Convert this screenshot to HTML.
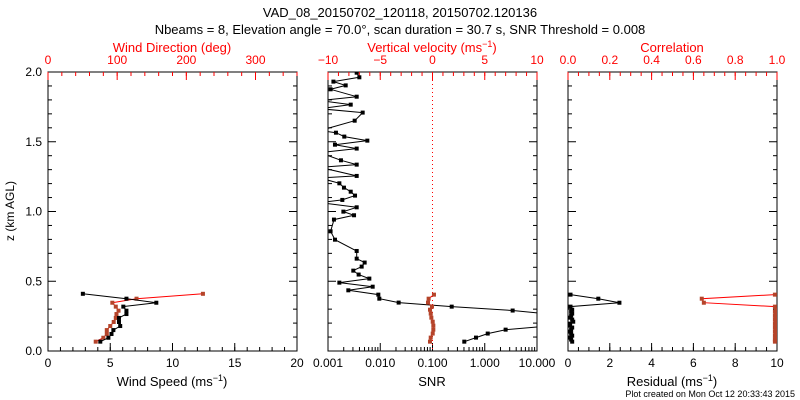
<!DOCTYPE html>
<html><head><meta charset="utf-8"><style>
html,body{margin:0;padding:0;background:#fff}
svg{display:block;font-family:"Liberation Sans",sans-serif}
</style></head><body>
<svg id="c" width="800" height="400" viewBox="0 0 800 400">
<text x="400" y="17" font-size="13" text-anchor="middle">VAD_08_20150702_120118, 20150702.120136</text>
<text x="400" y="34" font-size="13" text-anchor="middle">Nbeams = 8, Elevation angle = 70.0°, scan duration = 30.7 s, SNR Threshold = 0.008</text>
<text x="795" y="397" font-size="9" text-anchor="end">Plot created on Mon Oct 12 20:33:43 2015</text>
<text transform="translate(14,211) rotate(-90)" font-size="12" text-anchor="middle">z (km AGL)</text>
</svg>
<script>
// Panel 1: wind speed (black) and direction (red)
const heights1 = [0.067,0.095,0.122,0.150,0.179,0.208,0.237,0.265,0.289,0.318,0.346,0.375,0.410];
const windSpeed = [4.2,4.85,5.1,5.25,5.8,5.7,5.7,6.3,6.3,6.05,8.7,6.3,2.8];
const windDir = [69,80,85,85,90,95,98,99,102,98,93,128,224];
// Panel 2: SNR (black) and vertical velocity (red)
const heightsSnr = [0.067,0.096,0.125,0.153,0.175,0.205,0.235,0.270,0.290,0.318,0.347,0.375,0.404,0.435,0.461,0.490,0.519,0.548,0.576,0.605,0.634,0.662,0.717,0.798,0.858,0.942,0.973,0.999,1.030,1.064,1.083,1.114,1.142,1.171,1.202,1.240,1.255,1.317,1.336,1.367,1.422,1.451,1.479,1.508,1.537,1.565,1.580,1.651,1.709,1.737,1.766,1.795,1.823,1.876,1.904,1.931,1.962,1.995];
const snrValues = [0.406,0.68,1.14,2.51,12,20,20,12,3.42,0.233,0.0225,0.0096,0.00919,0.00245,0.00716,0.00165,0.00618,0.00386,0.00305,0.00441,0.00503,0.00354,0.00354,0.00136,0.00112,0.0013,0.00315,0.00197,0.00354,0.0007,0.00188,0.00329,0.00272,0.00202,0.00165,0.0007,0.00354,0.0007,0.00354,0.00177,0.0007,0.00354,0.00136,0.00566,0.00205,0.00142,0.0007,0.00324,0.00461,0.0007,0.00272,0.0007,0.00354,0.00112,0.00218,0.00127,0.00398,0.00354];
const heightsW = [0.067,0.096,0.125,0.153,0.182,0.210,0.239,0.268,0.296,0.318,0.347,0.375,0.404];
const vertVel = [-0.24,-0.17,0.02,0.08,0.08,0.02,-0.11,-0.17,-0.24,-0.05,-0.43,-0.37,0.14];
// Panel 3: residual (black) and correlation (red)
const heights3 = [0.067,0.082,0.096,0.11,0.125,0.139,0.153,0.168,0.182,0.196,0.210,0.225,0.239,0.253,0.268,0.282,0.296,0.318,0.346,0.375,0.404];
const residual = [0.2,0.15,0.1,0.2,0.15,0.1,0.15,0.2,0.1,0.1,0.25,0.2,0.1,0.15,0.2,0.15,0.2,0.12,2.46,1.45,0.12];
const correlation = [0.99,0.99,0.995,0.99,0.995,0.99,0.995,0.99,0.995,0.99,0.995,0.99,0.995,0.99,0.995,0.99,0.995,0.99,0.65,0.64,0.99];

const svg=document.getElementById('c');
const NS='http://www.w3.org/2000/svg';
function mk(tag,attrs,parent){const e=document.createElementNS(NS,tag);for(const k in attrs)e.setAttribute(k,attrs[k]);(parent||svg).appendChild(e);return e;}
const TOP=72,BOT=351;
const yS=z=>BOT-z/2*(BOT-TOP);
function lin(d0,d1,r0,r1){return v=>r0+(v-d0)/(d1-d0)*(r1-r0);}
function logS(d0,d1,r0,r1){return v=>r0+(Math.log10(v)-Math.log10(d0))/(Math.log10(d1)-Math.log10(d0))*(r1-r0);}
const RED='#ff0000',MRED='#b5442a';

function panel(id,L,R){
  const cp=mk('clipPath',{id:'clip'+id});mk('rect',{x:L,y:TOP,width:R-L,height:BOT-TOP},cp);
  const f=mk('rect',{x:L,y:TOP,width:R-L,height:BOT-TOP,fill:'none',stroke:'#000','stroke-width':1});
  
  
  // y ticks
  for(let i=0;i<=20;i++){const y=yS(i*0.1),len=i%5==0?8:4;
    mk('line',{x1:L,x2:L+len,y1:y,y2:y,stroke:'#000'});mk('line',{x1:R,x2:R-len,y1:y,y2:y,stroke:'#000'});}
}
function xTicks(L,sc,majors,minors,labels,isTop,color,name){
  const y=isTop?TOP:BOT,dir=isTop?1:-1;
  minors.forEach(v=>{const x=sc(v);mk('line',{x1:x,x2:x,y1:y,y2:y+dir*4,stroke:color});});
  majors.forEach((v,i)=>{const x=sc(v);mk('line',{x1:x,x2:x,y1:y,y2:y+dir*8,stroke:color});
    const t=mk('text',{x:x,y:isTop?TOP-8:BOT+16,'font-size':12,'text-anchor':'middle',fill:color});t.textContent=labels[i];
    
    });
}
function rng(a,b,s){const r=[];for(let v=a;v<=b+1e-9;v+=s)r.push(+v.toFixed(6));return r;}
function series(id,xs,zs,xsc,lineColor,markColor,name,lo,hi){
  const g=mk('g',{'clip-path':'url(#clip'+id+')'});
  
  
  const pts=xs.map((v,i)=>xsc(v).toFixed(1)+','+yS(zs[i]).toFixed(1)).join(' ');
  mk('polyline',{points:pts,fill:'none',stroke:lineColor,'stroke-width':1},g);
  xs.forEach((v,i)=>{if(v<lo||v>hi)return;const x=xsc(v),y=yS(zs[i]);
    const m=mk('rect',{x:x-2,y:y-2,width:4,height:4,fill:markColor},g);
    
    });
}
// Panel 1
const P1L=48,P1R=297;panel(1,P1L,P1R);
[0,0.5,1,1.5,2].forEach(z=>{const t=mk('text',{x:42,y:yS(z)+4,'font-size':12,'text-anchor':'end'});t.textContent=z.toFixed(1);
  
  });
const sx1=lin(0,20,P1L,P1R),dx1=lin(0,360,P1L,P1R);
xTicks(P1L,sx1,rng(0,20,5),rng(0,20,1),['0','5','10','15','20'],false,'#000','wind-speed');
xTicks(P1L,dx1,rng(0,300,100),rng(0,360,20),['0','100','200','300'],true,RED,'wind-direction');
series(1,windDir,heights1,dx1,RED,MRED,'wind-direction-series',0,360);
series(1,windSpeed,heights1,sx1,'#000','#000','wind-speed-series',0,20);
// Panel 2
const P2L=328,P2R=537;panel(2,P2L,P2R);
const sx2=logS(0.001,10,P2L,P2R),vx2=lin(-10,10,P2L,P2R);
const logMin=[];for(let e=-3;e<1;e++)for(let k=2;k<=9;k++)logMin.push(k*Math.pow(10,e));
xTicks(P2L,sx2,[0.001,0.01,0.1,1,10],logMin,['0.001','0.010','0.100','1.000','10.000'],false,'#000','snr');
xTicks(P2L,vx2,rng(-10,10,5),rng(-10,10,1),['−10','−5','0','5','10'],true,RED,'vertical-velocity');
mk('line',{x1:vx2(0),x2:vx2(0),y1:TOP,y2:BOT,stroke:RED,'stroke-dasharray':'1,3'});
series(2,snrValues,heightsSnr,sx2,'#000','#000','snr-series',0.001,10);
series(2,vertVel,heightsW,vx2,RED,MRED,'vertical-velocity-series',-10,10);
// Panel 3
const P3L=568,P3R=777;panel(3,P3L,P3R);
const rx3=lin(0,10,P3L,P3R),cx3=lin(0,1,P3L,P3R);
xTicks(P3L,rx3,rng(0,10,2),rng(0,10,0.5),['0','2','4','6','8','10'],false,'#000','residual');
xTicks(P3L,cx3,rng(0,1,0.2),rng(0,1,0.05),['0.0','0.2','0.4','0.6','0.8','1.0'],true,RED,'correlation');
series(3,correlation,heights3,cx3,RED,MRED,'correlation-series',0,1);
series(3,residual,heights3,rx3,'#000','#000','residual-series',0,10);
// axis titles
function title(x,y,main,color,name){const t=mk('text',{x:x,y:y,'font-size':13,'text-anchor':'middle',fill:color});
  t.innerHTML=main+' (ms<tspan dy="-5" font-size="9">−1</tspan><tspan dy="5">)</tspan>';
  
  }
title(172,386,'Wind Speed','#000','x-axis-title-wind-speed');
title(432,52,'Vertical velocity',RED,'top-axis-title-vertical-velocity');
title(672,386,'Residual','#000','x-axis-title-residual');
[[172,52,'Wind Direction (deg)',RED,'top-axis-title-wind-direction'],[432,386,'SNR','#000','x-axis-title-snr'],[672,52,'Correlation',RED,'top-axis-title-correlation']].forEach(a=>{
  const t=mk('text',{x:a[0],y:a[1],'font-size':13,'text-anchor':'middle',fill:a[3]});t.textContent=a[2];
  
  });
</script>
</body></html>
